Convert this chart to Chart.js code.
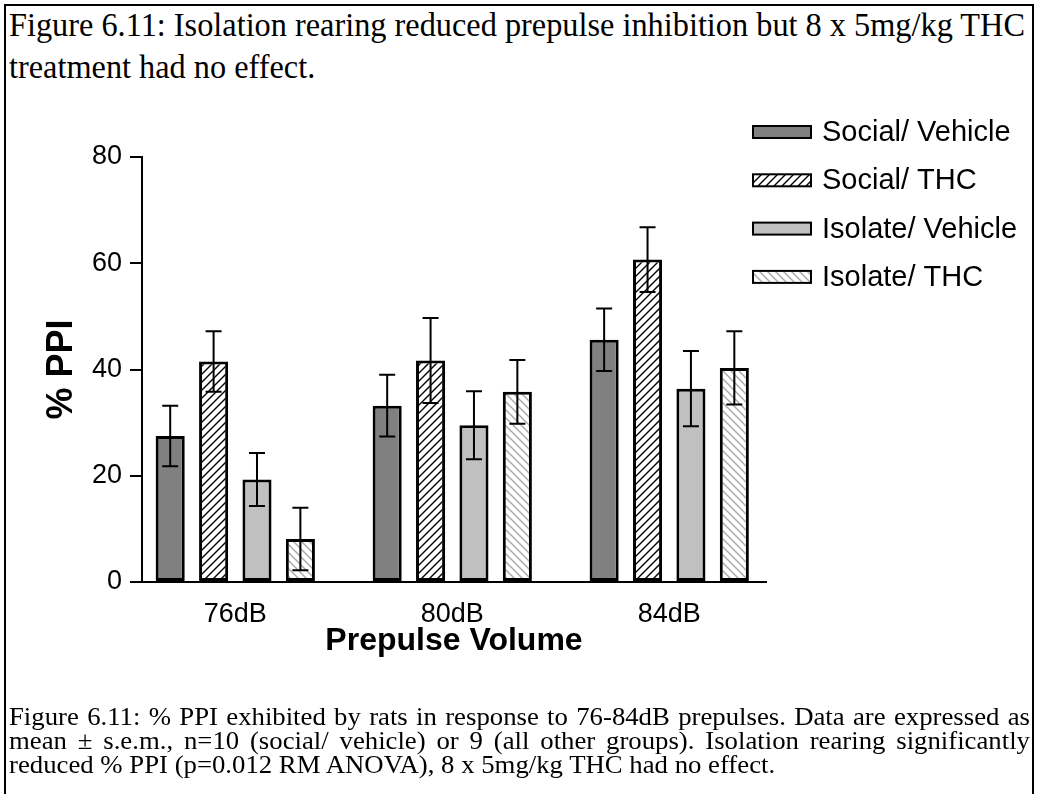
<!DOCTYPE html>
<html><head><meta charset="utf-8">
<script src="https://cdn.jsdelivr.net/npm/chart.js@4.4.1/dist/chart.umd.min.js"></script>
<style>
html,body{margin:0;padding:0;background:#fff;}
#page{position:relative;width:1039px;height:794px;overflow:hidden;background:#fff;}
#frame{position:absolute;left:4px;top:4px;width:1030px;height:820px;border-left:2px solid #000;border-top:2px solid #000;border-right:2px solid #000;box-sizing:border-box;}
.ser{position:absolute;font-family:'Liberation Serif','Times New Roman',serif;color:#000;white-space:nowrap;transform-origin:0 0;line-height:1;}
#t1{left:9px;top:8px;font-size:34px;}
#t2{left:9px;top:50px;font-size:34px;}
.cap{font-size:25px;}
#c1{left:9px;top:704px;text-align:justify;text-align-last:justify;}
#c2{left:9px;top:728px;text-align:justify;text-align-last:justify;}
#c3{left:9px;top:752px;}
#chart{position:absolute;left:0;top:0;}
</style>
</head><body>
<div id="page">
<div id="frame"></div>
<div id="t1" class="ser">Figure 6.11: Isolation rearing reduced prepulse inhibition but 8 x 5mg/kg THC</div>
<div id="t2" class="ser">treatment had no effect.</div>
<canvas id="chart" width="1039" height="794"></canvas>
<div id="c1" class="ser cap">Figure 6.11: % PPI exhibited by rats in response to 76-84dB prepulses. Data are expressed as</div>
<div id="c2" class="ser cap">mean ± s.e.m., n=10 (social/ vehicle) or 9 (all other groups). Isolation rearing significantly</div>
<div id="c3" class="ser cap">reduced % PPI (p=0.012 RM ANOVA), 8 x 5mg/kg THC had no effect.</div>
</div>
<script>
// ---- data ----
const categories = ['76dB', '80dB', '84dB'];
const seriesLabels = ['Social/ Vehicle', 'Social/ THC', 'Isolate/ Vehicle', 'Isolate/ THC'];
const socialVehicle = [27.5, 33.2, 45.6];
const socialVehicleErr = [5.7, 5.8, 5.9];
const socialTHC = [41.5, 41.7, 60.7];
const socialTHCErr = [5.7, 8.0, 6.1];
const isolateVehicle = [19.3, 29.5, 36.4];
const isolateVehicleErr = [5.0, 6.4, 7.1];
const isolateTHC = [8.1, 35.8, 40.3];
const isolateTHCErr = [5.9, 6.0, 6.9];
const yTicks = [0, 20, 40, 60, 80];

// ---- text fitting (condensed serif like the reference) ----
(function(){
  const t1 = document.getElementById('t1');
  const t2 = document.getElementById('t2');
  const s = 1016 / t1.scrollWidth;
  [t1, t2].forEach(el => el.style.transform = 'scaleX(' + s + ')');
  const c3 = document.getElementById('c3');
  const sc = 766 / c3.scrollWidth;
  ['c1','c2','c3'].forEach(id => {
    const el = document.getElementById(id);
    el.style.transform = 'scaleX(' + sc + ')';
    if (id !== 'c3') el.style.width = (1021 / sc) + 'px';
  });
})();

function makePattern(color, dir) {
  const c = document.createElement('canvas');
  c.width = 8; c.height = 8;
  const g = c.getContext('2d');
  g.fillStyle = '#fff'; g.fillRect(0, 0, 8, 8);
  g.strokeStyle = color; g.lineWidth = 1.4;
  g.beginPath();
  if (dir === '/') {
    g.moveTo(-1, 9); g.lineTo(9, -1);
    g.moveTo(-1, 1); g.lineTo(1, -1);
    g.moveTo(7, 9); g.lineTo(9, 7);
  } else {
    g.moveTo(-1, -1); g.lineTo(9, 9);
    g.moveTo(7, -1); g.lineTo(9, 1);
    g.moveTo(-1, 7); g.lineTo(1, 9);
  }
  g.stroke();
  return g.createPattern(c, 'repeat');
}

const fills = ['#808080', makePattern('#000', '/'), '#c0c0c0', makePattern('#a8a8a8', '\\')];
const values = [socialVehicle, socialTHC, isolateVehicle, isolateTHC];
const errors = [socialVehicleErr, socialTHCErr, isolateVehicleErr, isolateTHCErr];

const datasets = seriesLabels.map((lab, k) => ({
  label: lab,
  data: categories.map((c, i) => ({x: i, y: values[k][i]})),
  errors: errors[k],
  backgroundColor: fills[k],
  borderColor: '#000',
  borderWidth: 3,
  borderSkipped: false,
  barPercentage: 0.67,
  categoryPercentage: 0.8
}));

const errorBars = {
  id: 'errorBars',
  afterDatasetsDraw(chart) {
    const {ctx} = chart;
    const y = chart.scales.y;
    ctx.save();
    ctx.strokeStyle = '#000';
    ctx.lineWidth = 2;
    chart.data.datasets.forEach((ds, di) => {
      const meta = chart.getDatasetMeta(di);
      meta.data.forEach((el, i) => {
        const v = ds.data[i].y, e = ds.errors[i];
        const yt = y.getPixelForValue(v + e), yb = y.getPixelForValue(v - e);
        const cw = 8;
        ctx.beginPath();
        ctx.moveTo(el.x, yt); ctx.lineTo(el.x, yb);
        ctx.moveTo(el.x - cw, yt); ctx.lineTo(el.x + cw, yt);
        ctx.moveTo(el.x - cw, yb); ctx.lineTo(el.x + cw, yb);
        ctx.stroke();
      });
    });
    ctx.restore();
  }
};

const sideLegend = {
  id: 'sideLegend',
  afterDraw(chart, args, o) {
    const {ctx, chartArea} = chart;
    ctx.save();
    ctx.font = o.fontSize + "px 'Liberation Sans', Arial, sans-serif";
    ctx.textBaseline = 'middle';
    chart.data.datasets.forEach((ds, i) => {
      const x = chartArea.right + o.offsetX;
      const yc = chartArea.top + o.offsetY + i * o.rowGap;
      ctx.fillStyle = ds.backgroundColor;
      ctx.fillRect(x, yc - o.boxH / 2, o.boxW, o.boxH);
      ctx.lineWidth = 2; ctx.strokeStyle = '#000';
      ctx.strokeRect(x, yc - o.boxH / 2, o.boxW, o.boxH);
      ctx.fillStyle = '#000';
      ctx.fillText(ds.label, x + o.boxW + o.gap, yc + 1);
    });
    ctx.restore();
  }
};

Chart.defaults.font.family = "'Liberation Sans', Arial, sans-serif";
Chart.defaults.color = '#000';

new Chart(document.getElementById('chart'), {
  type: 'bar',
  data: {datasets},
  options: {
    responsive: false,
    animation: false,
    layout: {padding: {left: 20, top: 157, right: 273, bottom: 112}},
    plugins: {
      legend: {display: false},
      tooltip: {enabled: false},
      sideLegend: {offsetX: -13, offsetY: -25, rowGap: 48.3, boxW: 58, boxH: 12, gap: 11, fontSize: 29}
    },
    scales: {
      x: {
        type: 'linear',
        min: -0.43, max: 2.446,
        offset: false,
        grid: {display: false, drawTicks: false, offset: false},
        border: {display: true, color: '#000', width: 2},
        afterBuildTicks: s => { s.ticks = categories.map((c, i) => ({value: i})); },
        ticks: {font: {size: 27}, color: '#000', padding: 16, autoSkip: false, maxRotation: 0,
                callback: v => categories[v]},
        title: {display: true, text: 'Prepulse Volume', color: '#000',
                font: {size: 32, weight: 'bold'}, padding: {top: 0, bottom: 22}},
        afterFit: s => { s.height = 100; }
      },
      y: {
        min: 0, max: 80,
        afterBuildTicks: s => { s.ticks = yTicks.map(v => ({value: v})); },
        ticks: {font: {size: 27}, color: '#000', padding: 8},
        grid: {display: true, drawOnChartArea: false, drawTicks: true, tickLength: 12, color: '#000', lineWidth: 2},
        border: {display: true, color: '#000', width: 2},
        title: {display: true, text: '% PPI', color: '#000',
                font: {size: 36, weight: 'bold'}, padding: {top: 20, bottom: 0}},
        afterFit: s => { s.width = 122; }
      }
    }
  },
  plugins: [errorBars, sideLegend]
});
</script>
</body></html>
